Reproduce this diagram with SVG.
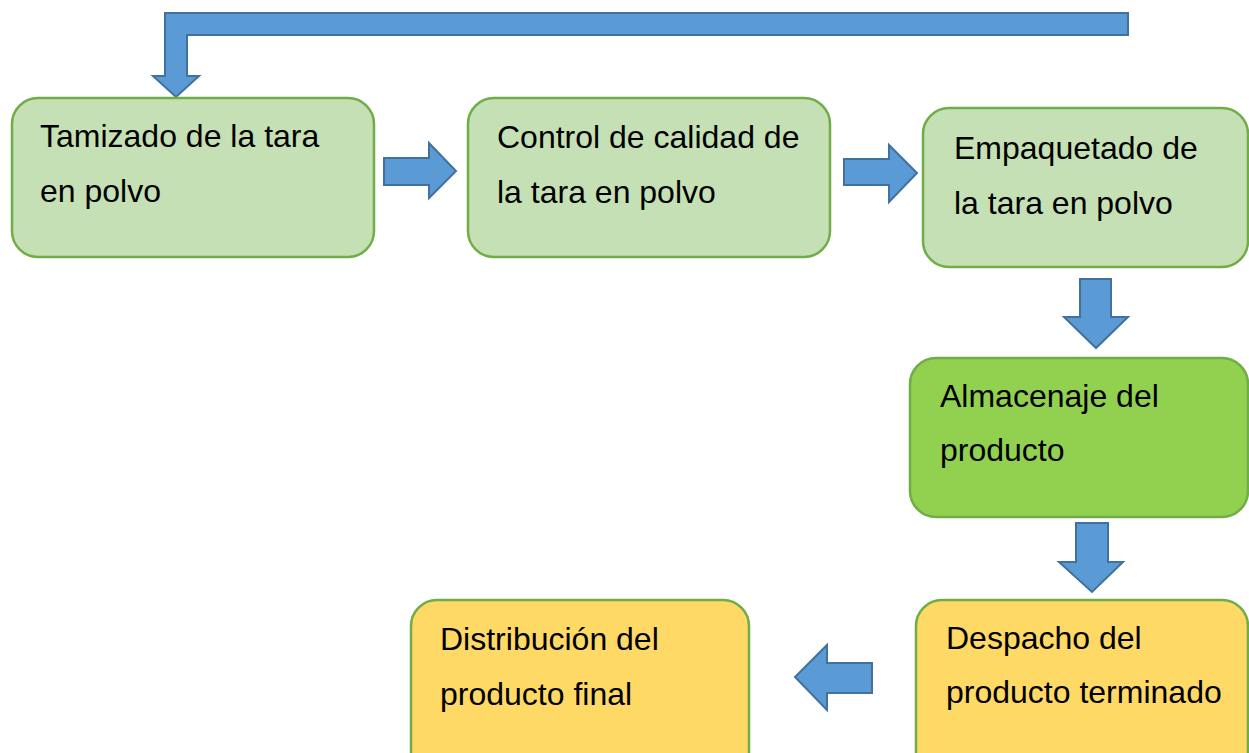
<svg xmlns="http://www.w3.org/2000/svg" width="1249" height="753" viewBox="0 0 1249 753">
<style>
.box{stroke:#70ad47;stroke-width:2.5}
.g1{fill:#c5e0b4}
.g2{fill:#92d050}
.y{fill:#ffd966}
.arr{fill:#5b9bd5;stroke:#41719c;stroke-width:2;stroke-linejoin:miter}
text{font-family:"Liberation Sans",Arial,sans-serif;font-size:32px;fill:#000}
</style>
<rect width="1249" height="753" fill="#fff"/>
<g id="connectors">
<polygon class="arr" points="1128,13 165,13 165,76 153,76 176,97 199,76 187,76 187,35 1128,35"/>
<polygon class="arr" points="384,158 429,158 429,143 456,171 429,198 429,185 384,185"/>
<polygon class="arr" points="844,159 889,159 889,145 917,173 889,202 889,185 844,185"/>
<polygon class="arr" points="1080,279 1111,279 1111,317 1128,317 1096,348 1064,317 1080,317"/>
<polygon class="arr" points="1076,523 1108,523 1108,562 1123,562 1092,592 1059,562 1076,562"/>
<polygon class="arr" points="872,663 827,663 827,645 795,677 827,710 827,693 872,693"/>
</g>
<g id="n1">
<rect class="box g1" x="12" y="98" width="362" height="159" rx="26"/>
<text x="40" y="147">Tamizado de la tara</text>
<text x="40" y="202">en polvo</text>
</g>
<g id="n2">
<rect class="box g1" x="468" y="98" width="362" height="159" rx="26"/>
<text x="497" y="148">Control de calidad de</text>
<text x="497" y="203">la tara en polvo</text>
</g>
<g id="n3">
<rect class="box g1" x="923" y="108" width="325" height="159" rx="26"/>
<text x="954" y="159">Empaquetado de</text>
<text x="954" y="214">la tara en polvo</text>
</g>
<g id="n4">
<rect class="box g2" x="910" y="358" width="338" height="159" rx="26"/>
<text x="940" y="407">Almacenaje del</text>
<text x="940" y="461">producto</text>
</g>
<g id="n5">
<rect class="box y" x="916" y="600" width="332" height="180" rx="26"/>
<text x="946" y="649">Despacho del</text>
<text x="946" y="703">producto terminado</text>
</g>
<g id="n6">
<rect class="box y" x="411" y="600" width="338" height="180" rx="26"/>
<text x="440" y="650">Distribución del</text>
<text x="440" y="705">producto final</text>
</g>
</svg>
